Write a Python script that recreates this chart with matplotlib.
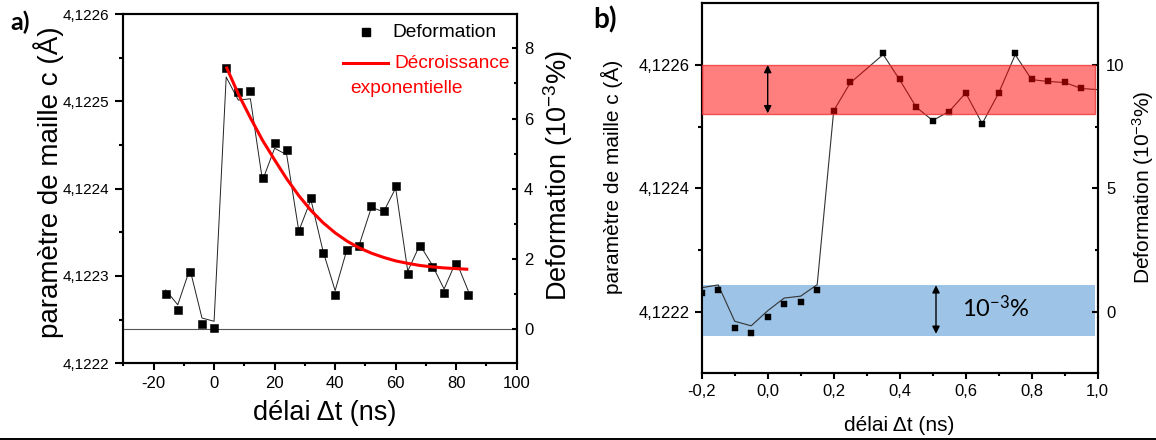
import matplotlib
matplotlib.use("Agg")
import matplotlib.pyplot as plt
from matplotlib.lines import Line2D
from matplotlib.transforms import Affine2D
from matplotlib.ticker import FixedLocator, FixedFormatter, MultipleLocator

plt.rcParams['font.family'] = ['Liberation Sans', 'DejaVu Sans']
plt.rcParams['mathtext.fontset'] = 'custom'
plt.rcParams['mathtext.rm'] = 'Liberation Sans'
plt.rcParams['mathtext.it'] = 'Liberation Sans:italic'
plt.rcParams['mathtext.bf'] = 'Liberation Sans:bold'
plt.rcParams['mathtext.default'] = 'regular'
plt.rcParams['axes.unicode_minus'] = False

# ---------------- data: panel a ----------------
delay_a_ns = [-16, -12, -8, -4, 0, 4, 8, 12, 16, 20, 24, 28, 32, 36, 40,
              44, 48, 52, 56, 60, 64, 68, 72, 76, 80, 84]
deformation_a = [0.99, 0.54, 1.63, 0.14, 0.04, 7.45, 6.75, 6.79, 4.31, 5.29,
                 5.09, 2.78, 3.73, 2.17, 0.97, 2.25, 2.37, 3.50, 3.36, 4.08,
                 1.56, 2.36, 1.76, 1.02, 1.86, 0.96]
fit_delay_ns = [4, 8, 12, 16, 20, 24, 28, 32, 36, 40, 44, 48, 52, 56, 60,
                64, 68, 72, 76, 80, 84]
fit_deformation = [7.48, 6.70, 6.02, 5.38, 4.82, 4.28, 3.80, 3.38, 3.03, 2.74,
                   2.50, 2.31, 2.16, 2.04, 1.94, 1.87, 1.81, 1.77, 1.74, 1.72,
                   1.70]
c_ticks_a = [4.1222, 4.1223, 4.1224, 4.1225, 4.1226]
c_minor_a = [4.12225, 4.12235, 4.12245, 4.12255]
def_ticks_a = [0, 2, 4, 6, 8]
x_ticks_a = [-20, 0, 20, 40, 60, 80, 100]

# ---------------- data: panel b ----------------
delay_b_ns = [-0.2, -0.15, -0.1, -0.05, 0.0, 0.05, 0.1, 0.15, 0.2, 0.25,
              0.35, 0.4, 0.45, 0.5, 0.55, 0.6, 0.65, 0.7, 0.75, 0.8, 0.85,
              0.9, 0.95, 1.0]
deformation_b = [0.74, 0.86, -0.66, -0.85, -0.22, 0.31, 0.39, 0.87, 8.14,
                 9.30, 10.49, 9.43, 8.29, 7.73, 8.11, 8.88, 7.60, 8.88, 10.48,
                 9.44, 9.36, 9.32, 9.07, 9.02]
red_band = (8.02, 10.0)
blue_band = (-0.98, 1.07)
c_ticks_b = [4.1222, 4.1224, 4.1226]
c_minor_b = [4.1223, 4.1225]
def_ticks_b = [0, 5, 10]
def_minor_b = [2.5, 7.5]
x_ticks_b = [-0.2, 0.0, 0.2, 0.4, 0.6, 0.8, 1.0]
x_minor_b = [-0.1, 0.1, 0.3, 0.5, 0.7, 0.9]


def comma(v, nd):
    return f"{v:.{nd}f}".replace('.', ',')


W, H = 1156, 440
fig = plt.figure(figsize=(W / 100, H / 100), dpi=100)


def px_axes(left, top, right, bottom):
    return fig.add_axes([left / W, 1 - bottom / H, (right - left) / W, (bottom - top) / H])


def style_axes(ax, axr, lw=1.5):
    for a in (ax, axr):
        for s in a.spines.values():
            s.set_linewidth(lw)
    ax.tick_params(top=False, right=False, which='both')
    axr.tick_params(axis='y', direction='in', which='both', width=lw, colors='black')


# =============== panel a ===============
ax_a = px_axes(123.3, 14, 516.7, 363.3)
ax_a.set_xlim(-30, 100)
ax_a.set_ylim(4.1222, 4.1226)
ax_a.yaxis.set_major_locator(FixedLocator(c_ticks_a))
ax_a.yaxis.set_major_formatter(FixedFormatter([comma(v, 4) for v in c_ticks_a]))
ax_a.yaxis.set_minor_locator(FixedLocator(c_minor_a))
ax_a.xaxis.set_major_locator(FixedLocator(x_ticks_a))
ax_a.xaxis.set_major_formatter(FixedFormatter([str(v) for v in x_ticks_a]))
ax_a.xaxis.set_minor_locator(MultipleLocator(10))
ax_a.tick_params(axis='y', which='major', length=5.8, width=1.5, labelsize=11, pad=4)
ax_a.tick_params(axis='y', which='minor', length=2.9, width=1.5)
ax_a.tick_params(axis='x', which='major', length=5, width=1.5, labelsize=12, pad=4)
ax_a.tick_params(axis='x', which='minor', length=2.5, width=1.5)

axr_a = ax_a.twinx()
axr_a.set_ylim(-0.98, 8.98)
axr_a.yaxis.set_major_locator(FixedLocator(def_ticks_a))
axr_a.yaxis.set_minor_locator(MultipleLocator(1))
axr_a.tick_params(axis='y', which='major', length=3.6, labelsize=12, pad=5.3)
axr_a.tick_params(axis='y', which='minor', length=2.2)
style_axes(ax_a, axr_a)

axr_a.axhline(0, color='#555555', lw=0.8, zorder=1)
# connecting line (drawn on the lattice-parameter scale in the original)
line_shift_a = Affine2D().scale(1, 0.94).translate(0, 0.18)
axr_a.plot(delay_a_ns, deformation_a, color='#222222', lw=0.7, zorder=2,
           transform=line_shift_a + axr_a.transData)
axr_a.plot(delay_a_ns, deformation_a, ls='none', marker='s', ms=5.6,
           mfc='black', mec='black', mew=0.4, zorder=3)
axr_a.plot(fit_delay_ns, fit_deformation, color='#FF0000', lw=2.2, zorder=4,
           solid_capstyle='butt')

ax_a.set_ylabel('paramètre de maille c (Å)', fontsize=20)
ax_a.yaxis.label.set(rotation_mode='default', va='center', ha='center')
ax_a.yaxis.set_label_coords(-0.189, 0.518)
axr_a.set_ylabel('Deformation (10$^{-3}$%)', fontsize=19.5)
axr_a.yaxis.label.set(rotation_mode='default', va='center', ha='center', rotation=90)
axr_a.yaxis.set_label_coords(1.105, 0.536)
ax_a.set_xlabel('délai Δt (ns)', fontsize=19.5)
ax_a.xaxis.label.set(va='center', ha='center')
ax_a.xaxis.set_label_coords(0.513, -0.142)

# legend (manual layout, as in the original)
axr_a.add_line(Line2D([0.616], [0.948], transform=axr_a.transAxes, marker='s', ms=5.6,
                      color='black', ls='none'))
axr_a.text(0.684, 0.948, 'Deformation', transform=axr_a.transAxes, fontsize=13.8,
           ha='left', va='center')
axr_a.add_line(Line2D([0.558, 0.672], [0.859, 0.859], transform=axr_a.transAxes,
                      color='#FF0000', lw=2.2))
axr_a.text(0.688, 0.859, 'Décroissance', transform=axr_a.transAxes, fontsize=13.8,
           color='#FF0000', ha='left', va='center')
axr_a.text(0.578, 0.787, 'exponentielle', transform=axr_a.transAxes, fontsize=13.8,
           color='#FF0000', ha='left', va='center')

# =============== panel b ===============
ax_b = px_axes(701.7, 3.3, 1097.7, 373.3)
ax_b.set_xlim(-0.2, 1.0)
ax_b.set_ylim(4.1221, 4.1227)
ax_b.yaxis.set_major_locator(FixedLocator(c_ticks_b))
ax_b.yaxis.set_major_formatter(FixedFormatter([comma(v, 4) for v in c_ticks_b]))
ax_b.yaxis.set_minor_locator(FixedLocator(c_minor_b))
ax_b.xaxis.set_major_locator(FixedLocator(x_ticks_b))
ax_b.xaxis.set_major_formatter(FixedFormatter([comma(v, 1) for v in x_ticks_b]))
ax_b.xaxis.set_minor_locator(FixedLocator(x_minor_b))
ax_b.tick_params(axis='y', which='major', length=5.3, width=1.5, labelsize=12, pad=3.6)
ax_b.tick_params(axis='y', which='minor', length=2.8, width=1.5)
ax_b.tick_params(axis='x', which='major', length=4.3, width=1.5, labelsize=12, pad=3.6)
ax_b.tick_params(axis='x', which='minor', length=2.2, width=1.5)

axr_b = ax_b.twinx()
axr_b.set_ylim(-2.5, 12.5)
axr_b.yaxis.set_major_locator(FixedLocator(def_ticks_b))
axr_b.yaxis.set_minor_locator(FixedLocator(def_minor_b))
axr_b.tick_params(axis='y', which='major', length=4, labelsize=12, pad=6)
axr_b.tick_params(axis='y', which='minor', length=2.5)
style_axes(ax_b, axr_b)

axr_b.axhspan(*blue_band, xmin=0, xmax=0.994, color='#9DC3E6', lw=0, zorder=1)
line_shift_b = Affine2D().scale(1, 0.97).translate(0, 0.25)
axr_b.plot(delay_b_ns, deformation_b, color='#333333', lw=0.8, zorder=2,
           transform=line_shift_b + axr_b.transData)
axr_b.plot(delay_b_ns[:-1], deformation_b[:-1], ls='none', marker='s', ms=4.6,
           mfc='black', mec='black', mew=0.3, zorder=3)
axr_b.axhspan(*red_band, xmin=0, xmax=0.994, facecolor=(1, 0, 0, 0.5),
              edgecolor=(0.93, 0.2, 0.2, 0.8), lw=1, zorder=4)

arrow_kw = dict(arrowstyle='<|-|>', color='black', lw=1.0, mutation_scale=11,
                shrinkA=0, shrinkB=0)
axr_b.annotate('', xy=(0.0, red_band[0] + 0.02), xytext=(0.0, red_band[1]),
               arrowprops=arrow_kw, zorder=5)
axr_b.annotate('', xy=(0.51, -0.9), xytext=(0.51, blue_band[1]),
               arrowprops=arrow_kw, zorder=5)
axr_b.text(0.588, 0.15, '10$^{-3}$%', fontsize=17, family=['Lato', 'DejaVu Sans'],
           ha='left', va='center', zorder=6)

ax_b.set_ylabel('paramètre de maille c (Å)', fontsize=15)
ax_b.yaxis.label.set(rotation_mode='default', va='center', ha='center')
ax_b.yaxis.set_label_coords(-0.2265, 0.532)
axr_b.set_ylabel('Deformation (10$^{-3}$%)', fontsize=15)
axr_b.yaxis.label.set(rotation_mode='default', va='center', ha='center', rotation=90)
axr_b.yaxis.set_label_coords(1.114, 0.502)
ax_b.set_xlabel('délai Δt (ns)', fontsize=15)
ax_b.xaxis.label.set(va='center', ha='center')
ax_b.xaxis.set_label_coords(0.4997, -0.14)

# panel letters
fig.text(20 / W, 1 - 22 / H, 'a)', fontsize=18, fontweight='bold',
         family=['Lato', 'DejaVu Sans'], ha='center', va='center')
fig.text(605 / W, 1 - 20 / H, 'b)', fontsize=20, fontweight='bold',
         family=['Lato', 'DejaVu Sans'], ha='center', va='center')

# thin rule at the bottom of the image
fig.add_artist(Line2D([0, 1], [0.0016, 0.0016], transform=fig.transFigure,
                      color='black', lw=1.4))

fig.savefig('out.png', dpi=100)
